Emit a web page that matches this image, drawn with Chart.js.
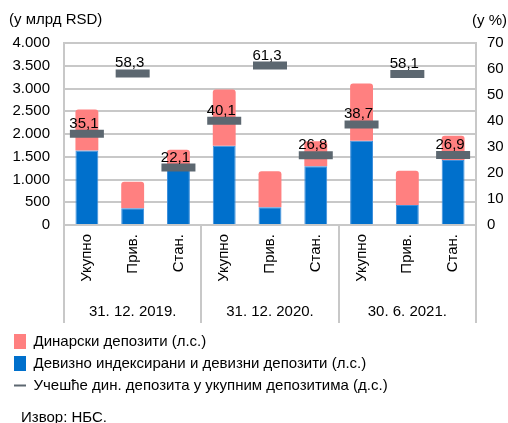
<!DOCTYPE html>
<html>
<head>
<meta charset="utf-8">
<script src="https://cdn.jsdelivr.net/npm/chart.js@4"></script>
<style>
  html, body { margin: 0; padding: 0; background: #fff; }
  #wrap { width: 508px; height: 423px; }
</style>
</head>
<body>
<div id="wrap"><canvas id="chart"></canvas></div>
<script>
const categories = ['Укупно', 'Прив.', 'Стан.', 'Укупно', 'Прив.', 'Стан.', 'Укупно', 'Прив.', 'Стан.']
const groups = ['31. 12. 2019.', '31. 12. 2020.', '30. 6. 2021.']
const dinarDeposits = [900, 580, 365, 1240, 790, 550, 1260, 750, 530]
const fxDeposits = [1640, 370, 1290, 1740, 390, 1290, 1850, 440, 1430]
const dinarShare = [35.1, 58.3, 22.1, 40.1, 61.3, 26.8, 38.7, 58.1, 26.9]

const pink = '#ff8080'
const blue = '#0070cc'
const dark = '#5c6770'
const gridGray = '#c8c8c8'
const font = 'Liberation Sans, Arial, sans-serif'

const fmt = v => String(v).replace(/\B(?=(\d{3})+(?!\d))/g, '.')

// extra texts, group separators and value labels
const extras = {
  id: 'extras',
  afterDraw(chart) {
    const ctx = chart.ctx
    const area = chart.chartArea
    const x = chart.scales.x
    const x2 = chart.scales.x2
    ctx.save()
    ctx.fillStyle = '#000'
    ctx.font = '15px ' + font
    ctx.textBaseline = 'alphabetic'
    ctx.textAlign = 'left'
    ctx.fillText('(у млрд RSD)', 9, 24)
    ctx.fillText('Извор: НБС.', 21, 422)
    ctx.textAlign = 'right'
    ctx.fillText('(у %)', 507, 25)

    // separators under the axis
    ctx.strokeStyle = gridGray
    ctx.lineWidth = 2
    const bounds = [area.left, area.right]
    for (let i = 3; i < categories.length; i += 3) {
      bounds.push((x.getPixelForValue(i - 1) + x.getPixelForValue(i)) / 2)
    }
    bounds.forEach(b => {
      ctx.beginPath()
      ctx.moveTo(Math.round(b), area.bottom)
      ctx.lineTo(Math.round(b), x2.top + 24)
      ctx.stroke()
    })

    // share labels above the markers
    const meta = chart.getDatasetMeta(2)
    ctx.textAlign = 'center'
    ctx.fillStyle = '#000'
    meta.data.forEach((pt, i) => {
      ctx.fillText(dinarShare[i].toFixed(1).replace('.', ','), pt.x - 3, pt.y - 6)
    })
    ctx.restore()
  }
}

new Chart(document.getElementById('chart'), {
  data: {
    labels: categories,
    datasets: [
      {
        type: 'bar',
        label: 'Девизно индексирани и девизни депозити (л.с.)',
        data: fxDeposits,
        backgroundColor: blue,
        borderColor: '#3d8fdc',
        borderWidth: 1,
        yAxisID: 'y',
        order: 2
      },
      {
        type: 'bar',
        label: 'Динарски депозити (л.с.)',
        data: dinarDeposits,
        backgroundColor: pink,
        borderRadius: 3,
        yAxisID: 'y',
        order: 2
      },
      {
        type: 'line',
        label: 'Учешће дин. депозита у укупним депозитима (д.с.)',
        data: dinarShare,
        yAxisID: 'y1',
        showLine: false,
        pointStyle: 'line',
        pointRadius: 17,
        pointHoverRadius: 17,
        pointBorderWidth: 8,
        pointHoverBorderWidth: 8,
        borderColor: dark,
        backgroundColor: dark,
        order: 1
      }
    ]
  },
  options: {
    responsive: true,
    maintainAspectRatio: false,
    animation: false,
    events: [],
    layout: { padding: { top: 43, left: 7, right: 0, bottom: 20 } },
    datasets: { bar: { categoryPercentage: 1, barPercentage: 0.5 } },
    scales: {
      x: {
        stacked: true,
        offset: true,
        afterFit: s => { s.height = 74 },
        grid: { display: false, drawTicks: false },
        border: { display: false },
        ticks: {
          autoSkip: false,
          maxRotation: 90,
          minRotation: 90,
          padding: 9,
          color: '#000',
          font: { family: font, size: 15 }
        }
      },
      x2: {
        type: 'category',
        labels: groups,
        position: 'bottom',
        offset: true,
        weight: 1,
        afterFit: s => { s.height = 28 },
        grid: { display: false, drawTicks: false },
        border: { display: false },
        ticks: { padding: 4, color: '#000', font: { family: font, size: 15 } }
      },
      y: {
        stacked: true,
        position: 'left',
        min: 0,
        max: 4000,
        afterFit: s => { s.width = 57 },
        ticks: {
          stepSize: 500,
          padding: 14,
          color: '#000',
          font: { family: font, size: 15 },
          callback: v => fmt(v)
        },
        grid: { color: gridGray, lineWidth: 2, drawTicks: false },
        border: { color: gridGray, width: 2 }
      },
      y1: {
        position: 'right',
        min: 0,
        max: 70,
        afterFit: s => { s.width = 32 },
        ticks: {
          stepSize: 10,
          padding: 11,
          color: '#000',
          font: { family: font, size: 15 }
        },
        grid: { drawOnChartArea: false, drawTicks: false },
        border: { color: gridGray, width: 2 }
      }
    },
    plugins: {
      tooltip: { enabled: false },
      legend: {
        position: 'bottom',
        align: 'start',
        labels: {
          usePointStyle: true,
          pointStyleWidth: 12,
          boxHeight: 17,
          padding: 7,
          color: '#000',
          font: { family: font, size: 15 },
          generateLabels: () => [
            { text: 'Динарски депозити (л.с.)', fillStyle: pink, strokeStyle: pink, lineWidth: 0, pointStyle: 'rect', datasetIndex: 1 },
            { text: 'Девизно индексирани и девизни депозити (л.с.)', fillStyle: blue, strokeStyle: blue, lineWidth: 0, pointStyle: 'rect', datasetIndex: 0 },
            { text: 'Учешће дин. депозита у укупним депозитима (д.с.)', fillStyle: dark, strokeStyle: dark, lineWidth: 2, pointStyle: 'line', datasetIndex: 2 }
          ]
        }
      }
    }
  },
  plugins: [extras]
})
</script>
</body>
</html>
